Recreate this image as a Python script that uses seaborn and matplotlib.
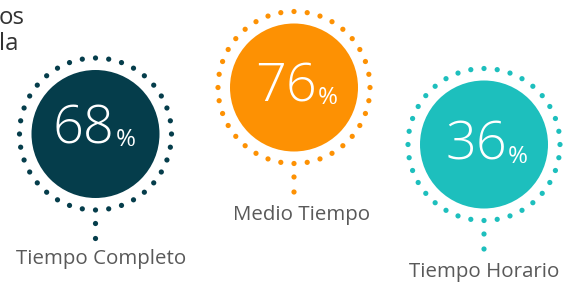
import numpy as np
import pandas as pd
import matplotlib
matplotlib.use("Agg")
import matplotlib.pyplot as plt
import seaborn as sns
from matplotlib.patches import Circle

sns.set_theme(style="white")
plt.rcParams['font.family'] = ['Open Sans', 'DejaVu Sans']

# ---- data ----
categories = ["Tiempo Completo", "Medio Tiempo", "Tiempo Horario"]
values = [68, 76, 36]
colors = ["#053d4b", "#fd9103", "#1dbfbd"]
header_fragments = ["os", "la"]

# ---- layout (pixels) ----
W, H = 571, 284
centers_x = [95.5, 294.0, 484.0]
centers_y = [134.0, 87.5, 144.5]
label_x = [101.5, 302.0, 484.0]
label_base = [264.0, 220.0, 277.0]
num_right = [114.5, 317.0, 507.0]
num_base = [143.5, 101.7, 160.0]
pct_base = [145.5, 104.0, 163.0]
fill_r = 64.0
ring_r = 76.0
n_dots = 36

def pt(px):
    return px * 72.0 / 100.0

fig = plt.figure(figsize=(W / 100, H / 100), dpi=100)
ax = fig.add_axes([0, 0, 1, 1])

rows = []
for i, cat in enumerate(categories):
    cx, cy = centers_x[i], centers_y[i]
    ang = np.deg2rad(np.arange(n_dots) * 360.0 / n_dots)
    for a in ang:
        rows.append((cat, cx + ring_r * np.cos(a), cy + ring_r * np.sin(a)))
    for d in (13.5, 28.5):
        rows.append((cat, cx, cy + ring_r + d))
    ax.add_patch(Circle((cx, cy), fill_r, color=colors[i], lw=0, zorder=1))

dots = pd.DataFrame(rows, columns=["cat", "x", "y"])
sns.scatterplot(data=dots, x="x", y="y", hue="cat", palette=colors,
                hue_order=categories, s=14, linewidth=0, legend=False,
                ax=ax, zorder=2)
ax.set_xlim(0, W)
ax.set_ylim(H, 0)
ax.set_aspect('equal')
ax.axis('off')

for i, cat in enumerate(categories):
    ax.text(num_right[i], num_base[i], str(values[i]), ha='right', va='baseline',
            color='white', fontsize=pt(54), fontweight='light', zorder=3)
    ax.text(num_right[i] + 1, pct_base[i], "%", ha='left', va='baseline',
            color='white', fontsize=pt(24), fontweight='normal', zorder=3)
    ax.text(label_x[i], label_base[i], cat, ha='center', va='baseline',
            color='#595959', fontsize=pt(20.5), zorder=3)

ax.text(-1, 24, header_fragments[0], ha='left', va='baseline', color='#333333',
        fontsize=pt(24))
ax.text(-1, 50, header_fragments[1], ha='left', va='baseline', color='#333333',
        fontsize=pt(24))

fig.savefig("out.png", dpi=100)
